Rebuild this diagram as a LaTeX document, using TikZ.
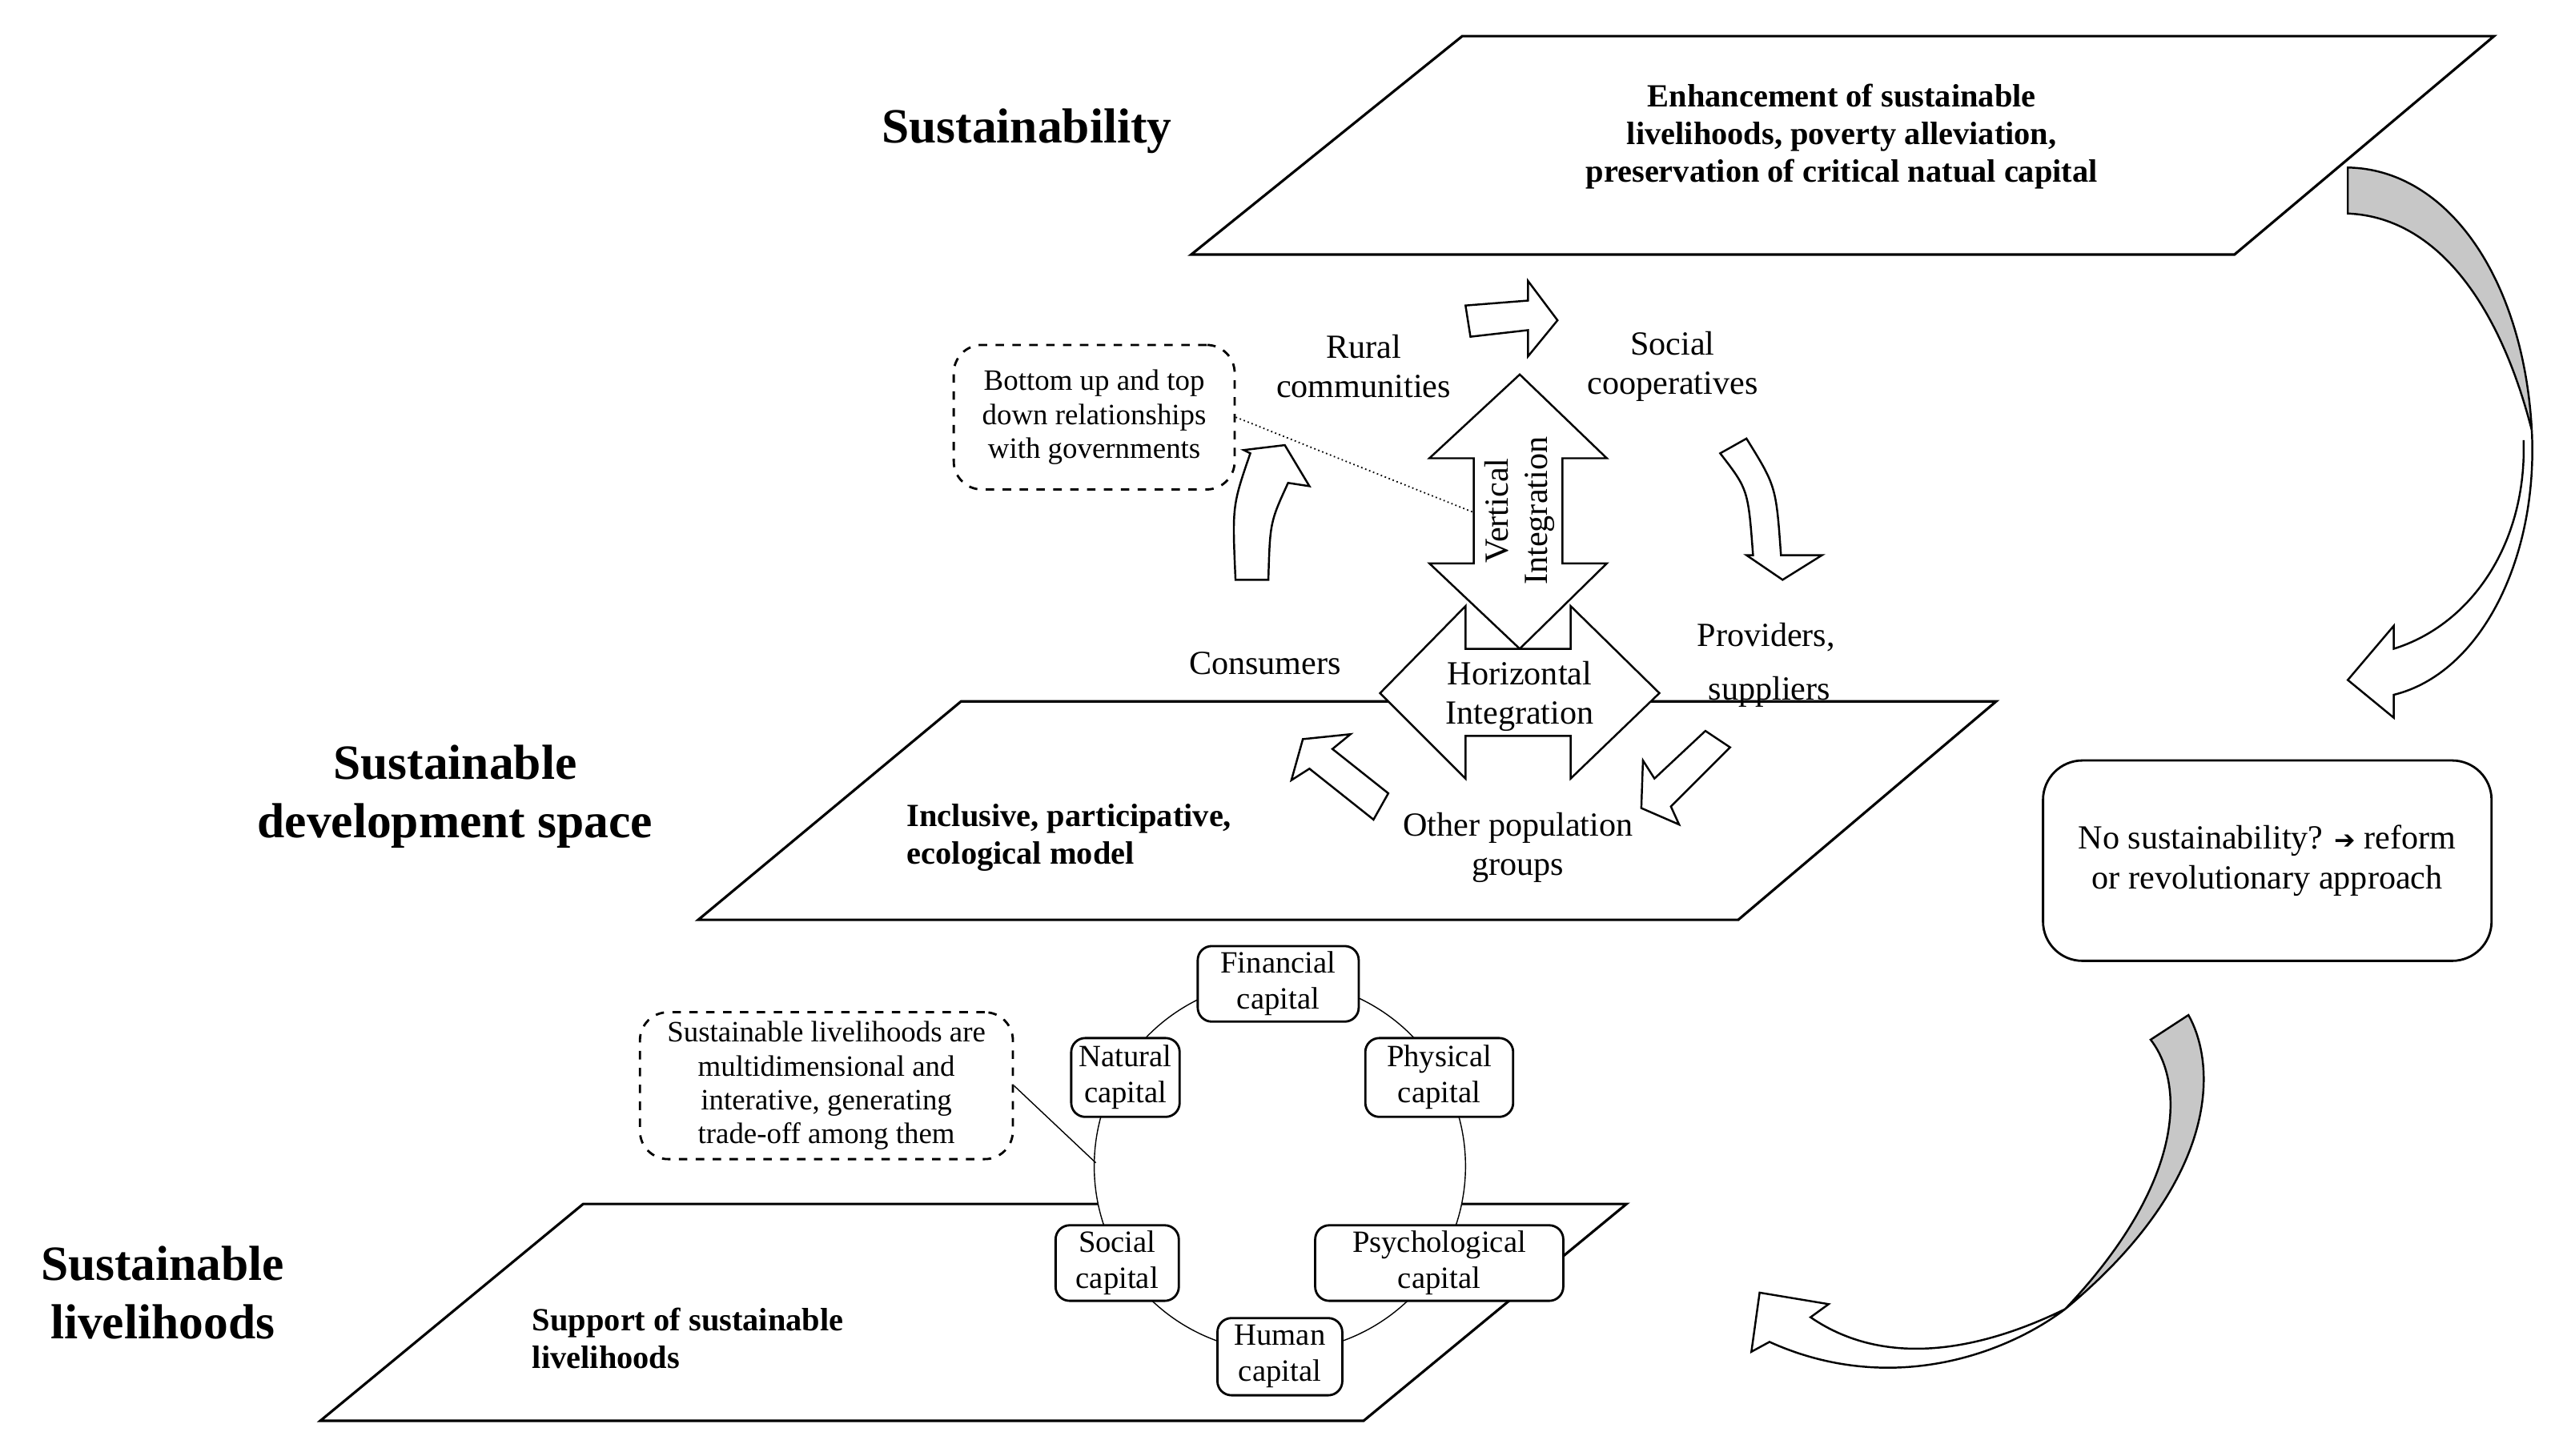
\documentclass[tikz,border=0pt]{standalone}
\usepackage{fontspec}
\setmainfont{Liberation Serif}
\newfontfamily\dvs{DejaVu Sans}
\begin{document}
\begin{tikzpicture}[x=0.2052mm,y=-0.2052mm,line join=miter,
  plane/.style={draw,line width=0.9pt,fill=white},
  head/.style={font=\bfseries\fontsize{17.5}{21}\selectfont,align=center},
  ptxt/.style={font=\bfseries\fontsize{11.5}{13.4}\selectfont,align=center},
  lbl/.style={font=\fontsize{12}{14}\selectfont,align=center},
  capbox/.style={draw,line width=0.8pt,rounded corners=5,fill=white,font=\fontsize{11}{12.8}\selectfont,align=center,inner sep=2pt},
  note/.style={draw,dashed,line width=0.8pt,rounded corners=10,font=\fontsize{10.5}{12}\selectfont,align=center},
  blk/.style={draw,line width=0.7pt,fill=white},
  gblk/.style={draw,line width=0.7pt,fill=black!22}]
\useasboundingbox (0,0) rectangle (1560,886);

% planes
\draw[plane] (725,155) -- (890,22) -- (1518,22) -- (1360,155) -- cycle;
\draw[plane] (425,560) -- (585,427) -- (1215,427) -- (1058,560) -- cycle;
\draw[plane] (195,865) -- (355,733) -- (990,733) -- (830,865) -- cycle;

\node[head] (hs) at (625,80) {Sustainability};
\node[head] (hd) at (277,485) {Sustainable\\development space};
\node[head] (hl) at (99,787) {Sustainable\\livelihoods};

\node[ptxt] (t1) at (1121,83) {Enhancement of sustainable\\livelihoods, poverty alleviation,\\preservation of critical natual capital};
\node[ptxt,align=left,anchor=west] (t2) at (546,510) {Inclusive, participative,\\ecological model};
\node[ptxt,align=left,anchor=west] (t3) at (318,815) {Support of sustainable\\livelihoods};

% upper labels
\node[lbl] (rural) at (830,223) {Rural\\communities};
\node[lbl] (social) at (1018,223) {Social\\cooperatives};
\node[lbl] (cons) at (770,404) {Consumers};
\node[lbl] (prov) at (1075,388) {Providers,};
\node[lbl] (supp) at (1077,421) {suppliers};
\node[lbl] (other) at (924,516) {Other population\\groups};

\node[note,minimum width=171*0.2052mm,minimum height=88*0.2052mm] (gov) at (666,254) {Bottom up and top\\down relationships\\with governments};
\coordinate (vpt) at (897,312);
\draw[densely dotted,line width=0.5pt] (gov.east) -- (vpt);

% vertical integration arrow
\draw[blk] (925,228) -- (978,279) -- (951,279) -- (951,343) -- (978,343) -- (925,395)
  -- (870,343) -- (897,343) -- (897,279) -- (870,279) -- cycle;
\node[lbl,rotate=90] (vi) at (925,311) {Vertical\\Integration};

% horizontal integration
\draw[blk,fill=white] (840,422) -- (892,369) -- (892,395) -- (956,395) -- (956,369) -- (1010,422)
  -- (956,474) -- (956,448) -- (892,448) -- (892,474) -- cycle;
\node[lbl] (hi) at (925,424) {Horizontal\\Integration};

% small cycle arrows
\draw[blk] (892,186) -- (930,183) -- (930,171) -- (948,195) -- (930,217) -- (930,201) -- (895,205) -- cycle;
\draw[blk] (1047,276) .. controls (1064,298) .. (1067,338) -- (1063,338) -- (1085,353) -- (1109,338)
  -- (1084,338) .. controls (1081,296) .. (1063,267) -- cycle;
\draw[blk] (752,353) .. controls (750,308) .. (761,276) -- (757,274) -- (782,271) -- (797,296)
  -- (784,294) .. controls (773,318) .. (772,353) -- cycle;
\draw[blk] (811,456) -- (822,447) -- (793,450) -- (786,475) -- (797,468) -- (836,499) -- (845,483) -- cycle;
\draw[blk] (1038,445) -- (1053,455) -- (1017,491) -- (1022,502) -- (999,492) -- (1000,463) -- (1007,474) -- cycle;

% capitals circle
\draw[line width=0.4pt,fill=white] (779,710) circle[radius=113];
\node[note,minimum width=227*0.2052mm,minimum height=88*0.2052mm] (slnote) at (503,661) {Sustainable livelihoods are\\multidimensional and\\interative, generating\\trade-off among them};
\coordinate (cpt) at (667,708);
\draw[line width=0.4pt] (slnote.east) -- (cpt);
\node[capbox,minimum width=98*0.2052mm,minimum height=46*0.2052mm] (fin) at (778,599) {Financial\\capital};
\node[capbox,minimum width=66*0.2052mm,minimum height=48*0.2052mm] (nat) at (685,656) {Natural\\capital};
\node[capbox,minimum width=90*0.2052mm,minimum height=48*0.2052mm] (phy) at (876,656) {Physical\\capital};
\node[capbox,minimum width=75*0.2052mm,minimum height=46*0.2052mm] (soc) at (680,769) {Social\\capital};
\node[capbox,minimum width=151*0.2052mm,minimum height=46*0.2052mm] (psy) at (876,769) {Psychological\\capital};
\node[capbox,minimum width=76*0.2052mm,minimum height=47*0.2052mm] (hum) at (779,826) {Human\\capital};

% no sustainability box
\node[draw,line width=0.8pt,rounded corners=14,minimum width=273*0.2052mm,minimum height=122*0.2052mm,
  font=\fontsize{12}{14}\selectfont,align=center] (nos) at (1380,524)
  {No sustainability? {\dvs\bfseries\small ➔} reform\\or revolutionary approach};

% big upper arrow
\draw[gblk] (1429,102) .. controls (1490,103) and (1536,170) .. (1541,262)
  .. controls (1520,180) and (1480,132) .. (1429,130) -- cycle;
\draw[blk] (1541,262) .. controls (1545,340) and (1510,410) .. (1457,423) -- (1457,437) -- (1429,414)
  -- (1457,381) -- (1457,395) .. controls (1505,380) and (1538,330) .. (1536,268);
% big lower arrow
\draw[gblk] (1309,633) -- (1332,618) .. controls (1350,650) and (1350,720) .. (1257,797)
  .. controls (1330,720) and (1330,660) .. (1309,633) -- cycle;
\draw[blk] (1257,797) .. controls (1220,825) and (1150,850) .. (1077,817) -- (1066,823) -- (1071,787)
  -- (1113,794) -- (1102,802) .. controls (1150,835) and (1210,820) .. (1257,797);
\end{tikzpicture}
\end{document}
